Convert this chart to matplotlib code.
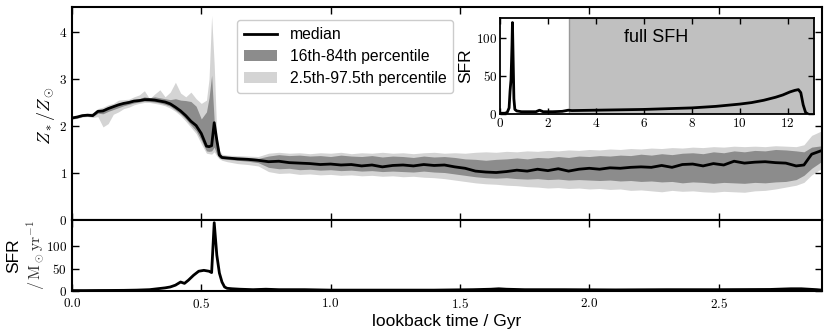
import matplotlib
matplotlib.use("Agg")
import matplotlib.pyplot as plt
from matplotlib.patches import Patch
from matplotlib.lines import Line2D
from matplotlib.ticker import FuncFormatter, FixedLocator

plt.rcParams['font.family'] = ['Liberation Sans', 'DejaVu Sans']
plt.rcParams['mathtext.fontset'] = 'cm'

# ---------------- data ----------------
# lookback time grid (Gyr) for metallicity panel
t = [0.00, 0.02, 0.04, 0.06, 0.08, 0.10, 0.12, 0.14, 0.16, 0.18, 0.20, 0.22, 0.24,
     0.26, 0.28, 0.30, 0.32, 0.34, 0.36, 0.38, 0.40, 0.42, 0.44, 0.46, 0.48, 0.50,
     0.52, 0.53, 0.54, 0.55, 0.56, 0.57, 0.58, 0.60,
     0.64, 0.68, 0.72, 0.76, 0.80, 0.84, 0.88, 0.92, 0.96, 1.00, 1.04, 1.08, 1.12,
     1.16, 1.20, 1.24, 1.28, 1.32, 1.36, 1.40, 1.44, 1.48, 1.52, 1.56, 1.60, 1.64,
     1.68, 1.72, 1.76, 1.80, 1.84, 1.88, 1.92, 1.96, 2.00, 2.04, 2.08, 2.12, 2.16,
     2.20, 2.24, 2.28, 2.32, 2.36, 2.40, 2.44, 2.48, 2.52, 2.56, 2.60, 2.64, 2.68,
     2.72, 2.76, 2.80, 2.83, 2.86, 2.90]

median = [2.17, 2.19, 2.22, 2.23, 2.22, 2.31, 2.32, 2.37, 2.41, 2.45, 2.48, 2.50, 2.53,
          2.54, 2.56, 2.56, 2.55, 2.53, 2.51, 2.47, 2.40, 2.32, 2.22, 2.10, 2.01, 1.84,
          1.57, 1.56, 1.58, 2.07, 1.70, 1.38, 1.33, 1.32,
          1.30, 1.29, 1.27, 1.24, 1.25, 1.22, 1.21, 1.20, 1.18, 1.19, 1.17, 1.18, 1.15,
          1.17, 1.13, 1.16, 1.17, 1.15, 1.18, 1.16, 1.17, 1.13, 1.10, 1.04, 1.02, 1.01,
          1.03, 1.06, 1.04, 1.08, 1.05, 1.09, 1.04, 1.08, 1.10, 1.08, 1.11, 1.10, 1.12,
          1.13, 1.12, 1.16, 1.12, 1.18, 1.19, 1.15, 1.20, 1.17, 1.25, 1.21, 1.23, 1.24,
          1.22, 1.21, 1.15, 1.17, 1.40, 1.48]

p16 = [2.15, 2.17, 2.20, 2.21, 2.20, 2.27, 2.26, 2.31, 2.35, 2.39, 2.43, 2.46, 2.49,
       2.51, 2.53, 2.52, 2.51, 2.49, 2.46, 2.42, 2.34, 2.26, 2.15, 2.02, 1.90, 1.70,
       1.47, 1.46, 1.47, 1.55, 1.40, 1.32, 1.30, 1.29,
       1.27, 1.25, 1.22, 1.12, 1.09, 1.10, 1.07, 1.08, 1.06, 1.07, 1.05, 1.06, 1.04,
       1.05, 1.03, 1.04, 1.03, 1.02, 1.04, 1.02, 1.01, 0.98, 0.95, 0.92, 0.90, 0.89,
       0.90, 0.88, 0.87, 0.88, 0.86, 0.87, 0.85, 0.86, 0.85, 0.84, 0.85, 0.83, 0.84,
       0.82, 0.83, 0.81, 0.82, 0.79, 0.81, 0.80, 0.78, 0.80, 0.79, 0.78, 0.80, 0.79,
       0.81, 0.82, 0.86, 0.95, 1.10, 1.25]

p84 = [2.19, 2.21, 2.24, 2.25, 2.25, 2.34, 2.36, 2.40, 2.44, 2.48, 2.51, 2.54, 2.56,
       2.58, 2.62, 2.60, 2.62, 2.60, 2.58, 2.56, 2.58, 2.55, 2.54, 2.52, 2.42, 2.15,
       2.30, 2.60, 3.08, 2.10, 1.75, 1.45, 1.36, 1.35,
       1.34, 1.33, 1.31, 1.36, 1.39, 1.37, 1.38, 1.36, 1.37, 1.35, 1.38, 1.36, 1.35,
       1.37, 1.34, 1.36, 1.35, 1.33, 1.36, 1.34, 1.35, 1.33, 1.30, 1.29, 1.27, 1.29,
       1.30, 1.32, 1.30, 1.33, 1.32, 1.35, 1.33, 1.36, 1.35, 1.37, 1.36, 1.38, 1.37,
       1.40, 1.38, 1.41, 1.39, 1.42, 1.43, 1.41, 1.45, 1.43, 1.47, 1.45, 1.48, 1.47,
       1.50, 1.49, 1.47, 1.45, 1.55, 1.58]

p2_5 = [2.14, 2.16, 2.19, 2.20, 2.18, 2.20, 1.98, 2.05, 2.25, 2.30, 2.37, 2.40, 2.45,
        2.48, 2.50, 2.50, 2.48, 2.46, 2.43, 2.38, 2.31, 2.22, 2.10, 1.97, 1.84, 1.62,
        1.42, 1.41, 1.40, 1.45, 1.36, 1.30, 1.27, 1.24,
        1.20, 1.18, 1.15, 1.03, 0.99, 1.00, 0.97, 0.98, 0.96, 0.97, 0.95, 0.96, 0.94,
        0.95, 0.93, 0.94, 0.92, 0.93, 0.91, 0.90, 0.88, 0.85, 0.82, 0.79, 0.77, 0.76,
        0.74, 0.73, 0.71, 0.70, 0.68, 0.69, 0.67, 0.68, 0.66, 0.67, 0.65, 0.66, 0.63,
        0.64, 0.62, 0.60, 0.63, 0.61, 0.62, 0.60, 0.59, 0.61, 0.60, 0.59, 0.62, 0.63,
        0.66, 0.70, 0.74, 0.80, 0.96, 1.10]

p97_5 = [2.20, 2.22, 2.25, 2.27, 2.28, 2.37, 2.40, 2.45, 2.48, 2.55, 2.56, 2.57, 2.62,
         2.66, 2.75, 2.58, 2.68, 2.77, 2.62, 2.72, 2.93, 2.70, 2.62, 2.72, 2.58, 2.48,
         2.55, 3.00, 4.35, 3.30, 1.80, 1.48, 1.40, 1.38,
         1.37, 1.36, 1.35, 1.42, 1.44, 1.42, 1.43, 1.41, 1.43, 1.42, 1.44, 1.41, 1.43,
         1.42, 1.44, 1.42, 1.43, 1.41, 1.43, 1.44, 1.42, 1.43, 1.42, 1.44, 1.45, 1.44,
         1.46, 1.45, 1.47, 1.46, 1.48, 1.47, 1.49, 1.48, 1.50, 1.49, 1.51, 1.50, 1.52,
         1.51, 1.53, 1.52, 1.54, 1.53, 1.55, 1.54, 1.56, 1.55, 1.57, 1.56, 1.57, 1.56,
         1.58, 1.57, 1.56, 1.60, 1.80, 1.90]

# star formation rate in the zoomed window
sfr_t = [0.00, 0.05, 0.10, 0.15, 0.20, 0.25, 0.30, 0.33, 0.36, 0.38, 0.40, 0.42, 0.435,
         0.45, 0.47, 0.49, 0.51, 0.53, 0.54, 0.55, 0.56, 0.57, 0.58, 0.59, 0.60, 0.62,
         0.65, 0.70, 0.75, 0.80, 0.90, 1.00, 1.20, 1.40, 1.55, 1.62, 1.65, 1.68, 1.75,
         1.90, 2.10, 2.30, 2.50, 2.70, 2.78, 2.82, 2.85, 2.88, 2.90]
sfr = [1, 1, 1.2, 1.3, 1.5, 2, 3, 5, 7, 9, 13, 20, 17,
       24, 35, 44, 46, 44, 41, 152, 80, 40, 20, 9, 6, 5,
       4, 3, 4, 3, 3, 2, 2, 2, 3, 4, 5, 4, 3,
       3, 2.5, 3, 3, 3.5, 5, 5, 4, 3, 2]

# full star formation history (inset)
full_t = [0, 0.2, 0.3, 0.38, 0.42, 0.46, 0.50, 0.52, 0.55, 0.58, 0.62, 0.7, 0.9, 1.2,
          1.5, 1.65, 1.8, 2.2, 2.6, 2.85, 3.0, 4.0, 5.0, 6.0, 7.0, 8.0, 9.0, 10.0, 10.5,
          11.0, 11.5, 11.8, 12.1, 12.3, 12.45, 12.55, 12.65, 12.75, 12.85]
full_sfr = [1, 1, 2, 8, 30, 45, 90, 120, 70, 20, 6, 4, 3, 3,
            3, 5, 3, 3, 3.5, 5, 4.5, 5, 5.5, 6, 7, 8, 10, 13, 15,
            18, 22, 25, 29, 31, 32, 28, 12, 2, 0]

zoom_end = 2.88

x_ticks = [0.0, 0.5, 1.0, 1.5, 2.0, 2.5]
z_ticks = [0, 1, 2, 3, 4]
sfr_ticks = [0, 50, 100]
full_x_ticks = [0, 2, 4, 6, 8, 10, 12]

# ---------------- figure ----------------
dark = '#8c8c8c'
light = '#d4d4d4'

fig = plt.figure(figsize=(8.3, 3.35), dpi=100)
ax = fig.add_axes([0.0867, 0.3433, 0.9037, 0.6357])
ax2 = fig.add_axes([0.0867, 0.1313, 0.9037, 0.2120], sharex=ax)

def mfmt(fmt):
    return FuncFormatter(lambda v, p: '$' + (fmt % v) + '$')

tick_kw = dict(direction='in', top=True, right=True, length=5, width=1, labelsize=9.5)

ax.fill_between(t, p2_5, p97_5, color=light, lw=0)
ax.fill_between(t, p16, p84, color=dark, lw=0)
ax.plot(t, median, color='black', lw=2)
ax.set_ylim(0, 4.53)
ax.set_xlim(0, 2.90)
ax.yaxis.set_major_locator(FixedLocator(z_ticks))
ax.yaxis.set_major_formatter(mfmt('%d'))
ax.tick_params(**tick_kw)
ax.tick_params(labelbottom=False)
for s in ax.spines.values():
    s.set_linewidth(1.5)

ax2.plot(sfr_t, sfr, color='black', lw=2)
ax2.set_ylim(0, 158)
ax2.xaxis.set_major_locator(FixedLocator(x_ticks))
ax2.xaxis.set_major_formatter(mfmt('%.1f'))
ax2.yaxis.set_major_locator(FixedLocator(sfr_ticks))
ax2.yaxis.set_major_formatter(mfmt('%d'))
ax2.tick_params(**tick_kw)
ax2.tick_params(axis='x', pad=4.5)
for s in ax2.spines.values():
    s.set_linewidth(1.5)
ax2.set_xlabel('lookback time / Gyr', fontsize=12.5, labelpad=2)

fig.text(0.056, 0.655, r'$Z_*/Z_\odot$', rotation=90, fontsize=13,
         ha='center', va='center')
fig.text(0.016, 0.236, 'SFR', rotation=90, fontsize=12.5, ha='center', va='center')
fig.text(0.043, 0.238, r'$/\,\mathrm{M_\odot yr^{-1}}$', rotation=90, fontsize=11.5,
         ha='center', va='center', color='#333333')

handles = [Line2D([], [], color='black', lw=2),
           Patch(facecolor=dark, edgecolor='none'),
           Patch(facecolor=light, edgecolor='none')]
labels = ['median', '16th-84th percentile', '2.5th-97.5th percentile']
fig.legend(handles, labels, loc='upper left', bbox_to_anchor=(0.2855, 0.940),
           bbox_transform=fig.transFigure, borderaxespad=0, fontsize=11.3,
           frameon=True, fancybox=True, edgecolor='#cccccc', framealpha=1,
           handlelength=2.1, labelspacing=0.45, borderpad=0.45)

# inset
axi = fig.add_axes([0.6024, 0.6597, 0.3783, 0.2866])
axi.axvspan(zoom_end, 13.1, facecolor='#c0c0c0', edgecolor='#999999', lw=1)
axi.plot(full_t, full_sfr, color='black', lw=2)
axi.set_xlim(0, 13.1)
axi.set_ylim(0, 126)
axi.xaxis.set_major_locator(FixedLocator(full_x_ticks))
axi.xaxis.set_major_formatter(mfmt('%d'))
axi.yaxis.set_major_locator(FixedLocator(sfr_ticks))
axi.yaxis.set_major_formatter(mfmt('%d'))
axi.tick_params(direction='in', top=True, right=True, length=4, width=1,
                labelsize=9.5, pad=2)
for s in axi.spines.values():
    s.set_linewidth(1.3)
axi.set_ylabel('SFR', fontsize=12.5, labelpad=2)
axi.text(6.5, 101, 'full SFH', fontsize=13, ha='center', va='center')

fig.savefig('out.png', dpi=100)
